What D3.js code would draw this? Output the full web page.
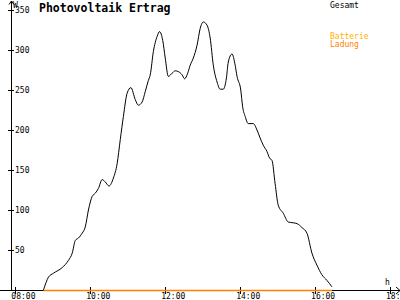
<!DOCTYPE html>
<html>
<head>
<meta charset="utf-8">
<script src="https://cdn.jsdelivr.net/npm/d3@7"></script>
<style>
  body { margin: 0; background: #fff; }
  text { font-family: "DejaVu Sans Mono", monospace; }
</style>
</head>
<body>
<div id="chart"></div>
<script>
// Gesamt (W) over the day
const times = ["08:45","08:53","09:01","09:15","09:25","09:31","09:36","09:41","09:47","09:52",
  "09:57","10:03","10:08","10:13","10:19","10:24","10:30","10:37","10:43","10:48",
  "10:53","10:59","11:05","11:12","11:17","11:23","11:28","11:33","11:36","11:41",
  "11:47","11:51","11:56","12:00","12:05","12:11","12:16","12:21","12:27","12:31",
  "12:36","12:40","12:45","12:51","12:56","13:01","13:07","13:12","13:17","13:23",
  "13:28","13:33","13:38","13:41","13:47","13:52","13:55","14:01","14:04","14:08",
  "14:13","14:21","14:27","14:32","14:37","14:43","14:47","14:51","14:56","15:01",
  "15:09","15:17","15:25","15:31","15:39","15:47","15:55","16:03","16:11","16:19","16:27"];
const gesamt = [0,16,21,28,37,46,62,65,71,79,
  100,117,121,127,138,135,130,140,158,188,
  217,246,253,238,231,235,248,262,269,298,
  317,323,312,290,267,271,274,273,269,264,
  271,281,290,306,327,335,331,315,281,260,
  251,251,265,285,295,281,267,250,229,217,
  208,208,200,190,181,173,165,162,133,106,
  96,85,84,83,78,71,46,31,19,12,4];

// Ladung / Batterie (W)
const ladungTimes = ["08:45", "16:27"];
const ladung = [0, 0];

const yTicks = [50, 100, 150, 200, 250, 300, 350];
const xTicks = ["08:00", "10:00", "12:00", "14:00", "16:00", "18:00"];

const width = 400, height = 300;
const parse = d3.timeParse("%H:%M");

const x = d3.scaleTime()
  .domain([parse("07:53"), parse("18:16")])
  .range([11, 400]);
const y = d3.scaleLinear().domain([0, 350]).range([290, 10]);

const svg = d3.select("#chart").append("svg")
  .attr("width", width)
  .attr("height", height);

// title
svg.append("text")
  .attr("x", 39).attr("y", 12)
  .attr("font-size", "11.5px").attr("font-weight", "bold")
  .text("Photovoltaik Ertrag");

// y axis with arrow
svg.append("path")
  .attr("d", "M11.5,290V1M9,4.5L11.5,1L14,4.5")
  .attr("fill", "none").attr("stroke", "#000");

svg.selectAll(".ytick").data(yTicks).enter().append("line")
  .attr("x1", 8).attr("x2", 14)
  .attr("y1", d => Math.round(y(d)) + 0.5)
  .attr("y2", d => Math.round(y(d)) + 0.5)
  .attr("stroke", "#000");

svg.selectAll(".ylab").data(yTicks).enter().append("text")
  .attr("x", 15).attr("y", d => y(d) + 3)
  .attr("font-size", "8px")
  .text(d => d);

svg.append("text").attr("x", 13).attr("y", 8)
  .attr("font-size", "8px").text("W");

// x axis with arrow
svg.append("path")
  .attr("d", "M0,290.5H400M396,287L400,290.5L396,294")
  .attr("fill", "none").attr("stroke", "#000");

svg.selectAll(".xtick").data(xTicks).enter().append("line")
  .attr("x1", d => Math.round(x(parse(d))) + 0.5)
  .attr("x2", d => Math.round(x(parse(d))) + 0.5)
  .attr("y1", 287).attr("y2", 294)
  .attr("stroke", "#000");

svg.selectAll(".xlab").data(xTicks).enter().append("text")
  .attr("x", d => x(parse(d)) - 4).attr("y", 299)
  .attr("font-size", "8px")
  .text(d => d);

svg.append("text").attr("x", 385).attr("y", 285)
  .attr("font-size", "8px").text("h");

// lines
const line = d3.line()
  .x(d => x(parse(d[0])))
  .y(d => y(d[1]))
  .curve(d3.curveMonotoneX);

svg.append("path")
  .datum(times.map((t, i) => [t, gesamt[i]]))
  .attr("d", line)
  .attr("fill", "none").attr("stroke", "#000").attr("stroke-width", 1);

svg.append("path")
  .datum(ladungTimes.map((t, i) => [t, ladung[i]]))
  .attr("d", d3.line().x(d => x(parse(d[0]))).y(d => Math.round(y(d[1])) + 0.5))
  .attr("fill", "none").attr("stroke", "#ff8000").attr("stroke-width", 1.5);

// legend
const legend = [["Gesamt", "#000", 8], ["Batterie", "#ffb000", 39], ["Ladung", "#ff8000", 47]];
svg.selectAll(".leg").data(legend).enter().append("text")
  .attr("x", 330).attr("y", d => d[2])
  .attr("font-size", "8px")
  .attr("fill", d => d[1])
  .text(d => d[0]);
</script>
</body>
</html>
